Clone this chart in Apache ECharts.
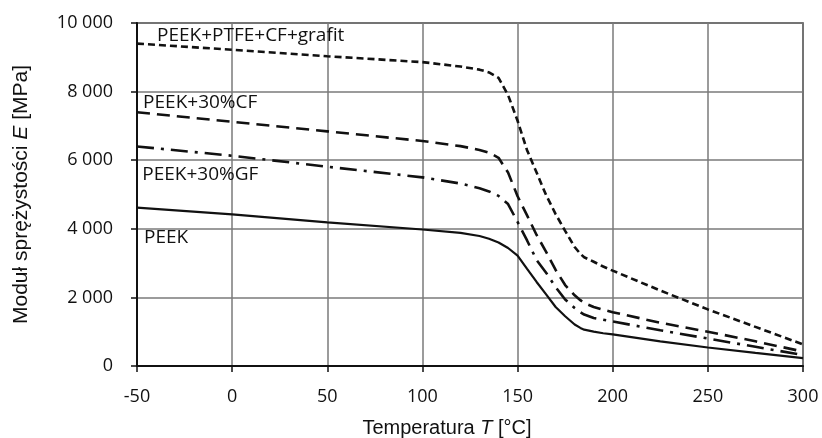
<!DOCTYPE html>
<html>
<head>
<meta charset="utf-8">
<script src="https://cdn.jsdelivr.net/npm/echarts@6/dist/echarts.min.js"></script>
<style>
    html, body { margin: 0; padding: 0; background: #fff; }
    #modulus_chart { width: 822px; height: 438px; }
</style>
</head>
<body>
<div id="modulus_chart"></div>
<script>
// temperatura [°C]
var temps = [-50, 0, 50, 100, 120, 130, 135, 140, 145, 150, 155, 160, 165, 170, 175, 180, 183, 185, 190, 195, 200, 225, 250, 275, 300];
// moduł sprężystości [MPa]
var ptfeCfGrafit = [9400, 9220, 9030, 8860, 8730, 8640, 8560, 8400, 7900, 7150, 6290, 5640, 4980, 4430, 3940, 3470, 3270, 3170, 3040, 2900, 2780, 2200, 1650, 1140, 630];
var cf30 = [7400, 7120, 6840, 6560, 6410, 6300, 6220, 6070, 5640, 4950, 4390, 3820, 3330, 2800, 2360, 2060, 1920, 1840, 1720, 1640, 1570, 1260, 1000, 720, 420];
var gf30 = [6400, 6130, 5810, 5500, 5320, 5180, 5090, 4960, 4720, 4200, 3660, 3090, 2720, 2300, 1940, 1690, 1570, 1500, 1400, 1350, 1300, 1040, 800, 560, 320];
var peek = [4620, 4420, 4190, 3980, 3880, 3790, 3710, 3600, 3440, 3220, 2830, 2450, 2090, 1720, 1450, 1210, 1110, 1060, 1000, 955, 920, 720, 540, 380, 230];
var seriesNames = ["PEEK+PTFE+CF+grafit", "PEEK+30%CF", "PEEK+30%GF", "PEEK"];
var yTicks = [0, 2000, 4000, 6000, 8000, 10000];

function pairs(vals) {
    return temps.map(function (t, i) { return [t, vals[i]]; });
}

function thousands(v) {
    return String(v).replace(/\B(?=(\d{3})+(?!\d))/g, " ");
}

function tag(name, x, y) {
    return {
        symbol: "circle",
        symbolSize: 0,
        silent: true,
        label: {
            show: true,
            position: "right",
            distance: 0,
            formatter: name,
            color: "#111",
            fontFamily: "Open Sans",
            fontSize: 19
        },
        data: [{ coord: [x, y] }]
    };
}

var chart = echarts.init(document.getElementById("modulus_chart"), null, { renderer: "canvas" });

chart.setOption({
    animation: false,
    backgroundColor: "#fff",
    grid: {
        left: 137,
        right: 19,
        top: 23,
        bottom: 72,
        containLabel: false,
        outerBoundsMode: "none",
        show: true,
        borderColor: "#333",
        borderWidth: 1.5
    },
    xAxis: {
        type: "value",
        min: -50,
        max: 300,
        interval: 50,
        name: "Temperatura {i|T} [°C]",
        nameLocation: "middle",
        nameGap: 52,
        nameTextStyle: {
            color: "#111",
            fontFamily: "Liberation Sans",
            fontSize: 20,
            padding: [0, 46, 0, 0],
            rich: { i: { fontStyle: "italic", fontFamily: "Liberation Sans", fontSize: 20, color: "#111" } }
        },
        axisLine: { show: true, onZero: false, lineStyle: { color: "#111", width: 2 } },
        axisTick: { show: true, inside: false, length: 6, lineStyle: { color: "#111", width: 1.5 } },
        axisLabel: { margin: 22, color: "#111", fontFamily: "Open Sans", fontSize: 18 },
        splitLine: { show: true, lineStyle: { color: "#7a7a7a", width: 1.5 } }
    },
    yAxis: {
        type: "value",
        min: yTicks[0],
        max: yTicks[yTicks.length - 1],
        interval: 2000,
        name: "Moduł sprężystości {i|E} [MPa]",
        nameLocation: "middle",
        nameGap: 105,
        nameTextStyle: {
            color: "#111",
            fontFamily: "Liberation Sans",
            fontSize: 21,
            rich: { i: { fontStyle: "italic", fontFamily: "Liberation Sans", fontSize: 21, color: "#111" } }
        },
        axisLine: { show: true, onZero: false, lineStyle: { color: "#111", width: 2 } },
        axisTick: { show: true, inside: false, length: 6, lineStyle: { color: "#111", width: 1.5 } },
        axisLabel: { margin: 24, color: "#111", fontFamily: "Open Sans", fontSize: 18, formatter: thousands },
        splitLine: { show: true, lineStyle: { color: "#7a7a7a", width: 1.5 } }
    },
    series: [
        {
            name: seriesNames[0],
            type: "line",
            data: pairs(ptfeCfGrafit),
            showSymbol: false,
            lineStyle: { color: "#111", width: 2.6, type: [7, 4] },
            markPoint: tag(seriesNames[0], -39.5, 9640)
        },
        {
            name: seriesNames[1],
            type: "line",
            data: pairs(cf30),
            showSymbol: false,
            lineStyle: { color: "#111", width: 2.6, type: [13, 7] },
            markPoint: tag(seriesNames[1], -46.8, 7690)
        },
        {
            name: seriesNames[2],
            type: "line",
            data: pairs(gf30),
            showSymbol: false,
            lineStyle: { color: "#111", width: 2.6, type: [17, 7, 3, 7] },
            markPoint: tag(seriesNames[2], -47.2, 5590)
        },
        {
            name: seriesNames[3],
            type: "line",
            data: pairs(peek),
            showSymbol: false,
            lineStyle: { color: "#111", width: 2.2, type: "solid" },
            markPoint: tag(seriesNames[3], -46.3, 3730)
        }
    ]
});

window.addEventListener("resize", function () {
    chart.resize();
});
</script>
</body>
</html>
